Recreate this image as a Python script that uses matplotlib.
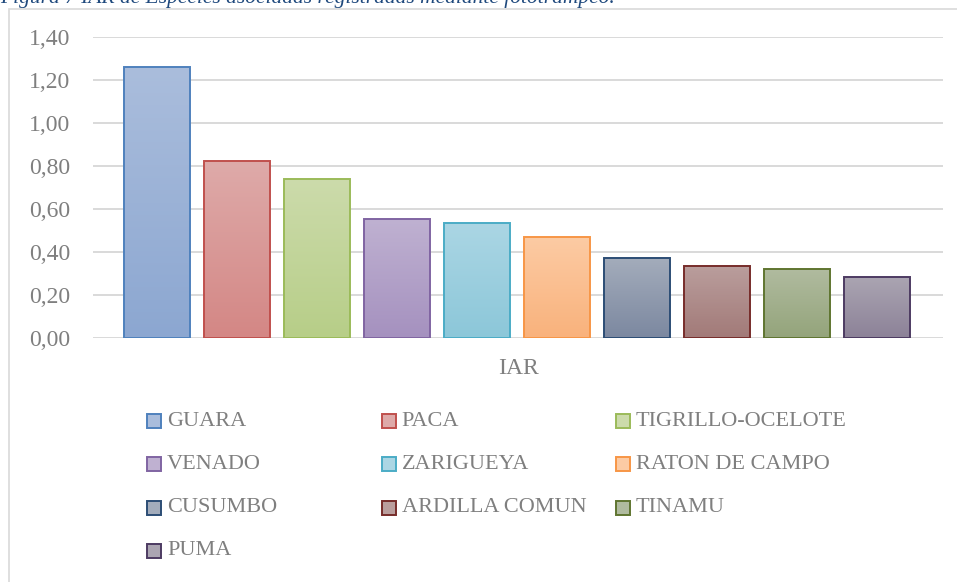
import numpy as np
import matplotlib
matplotlib.use("Agg")
import matplotlib.pyplot as plt
from matplotlib.patches import Rectangle
from matplotlib.colors import LinearSegmentedColormap

# ==============================
# DATI
# ==============================
especies = ["GUARA", "PACA", "TIGRILLO-OCELOTE", "VENADO", "ZARIGUEYA",
            "RATON DE CAMPO", "CUSUMBO", "ARDILLA COMUN", "TINAMU", "PUMA"]
iar = [1.26, 0.823, 0.74, 0.553, 0.537, 0.47, 0.372, 0.336, 0.319, 0.285]
yticks = [0.0, 0.2, 0.4, 0.6, 0.8, 1.0, 1.2, 1.4]

# colori: bordo, riempimento alto, riempimento basso
bordi = ["#4F81BD", "#C0504D", "#9BBB59", "#8064A2", "#4BACC6",
         "#F79646", "#2C4D75", "#772C2A", "#5F7530", "#4D3B62"]
alto = ["#AABDDC", "#DEAAA9", "#CCDBAB", "#BFB1D1", "#ABD6E4",
        "#FCCBA4", "#A3ACBB", "#BA9E9D", "#B0BB9F", "#ABA5B2"]
basso = ["#8CA7D1", "#D48785", "#B7CE88", "#A591BF", "#8CC7D9",
         "#F9B27C", "#7C88A0", "#A27A78", "#94A47B", "#8C8298"]

serif = ["Liberation Serif", "DejaVu Serif"]
grigio = "#7F7F7F"

W, H = 957, 582
fig = plt.figure(figsize=(W / 100, H / 100), dpi=100)

# bordo del grafico
fig.patches.append(Rectangle((9 / W, -0.1), 1.1, 1.1 - 8.5 / H,
                             transform=fig.transFigure, fill=False,
                             edgecolor="#D9D9D9", linewidth=1.2))

# titolo tagliato in alto
fig.text(0.0, 1 - 3 / H, "Figura 7 IAR de Especies asociadas registradas mediante fototrampeo.",
         family=serif, style="italic", fontsize=15.5, color="#1F497D", va="baseline", ha="left")

ax = fig.add_axes([93 / W, 1 - 338 / H, 850 / W, 301 / H])
x = np.arange(len(especies))
bars = ax.bar(x, iar, width=0.825, color="none", edgecolor=bordi,
              linewidth=1.4, zorder=3)

# riempimento sfumato
for b, c1, c2 in zip(bars, alto, basso):
    cmap = LinearSegmentedColormap.from_list("g", [c2, c1])
    x0, y0 = b.get_x(), b.get_y()
    im = ax.imshow(np.linspace(0, 1, 100).reshape(-1, 1), cmap=cmap, origin="lower",
                   extent=[x0, x0 + b.get_width(), y0, y0 + b.get_height()],
                   aspect="auto", zorder=2)
    im.set_clip_path(b)

ax.set_xlim(-0.8, 9.825)
ax.set_ylim(0, 1.4)
ax.set_yticks(yticks)
ax.set_yticklabels([f"{v:.2f}".replace(".", ",") for v in yticks])
ax.set_xticks([])
for s in ax.spines.values():
    s.set_visible(False)
ax.grid(axis="y", color="#D9D9D9", linewidth=1.4, zorder=0)
ax.set_axisbelow(True)
ax.tick_params(axis="y", length=0, pad=16.5, labelsize=17, labelcolor=grigio)
for t in ax.get_yticklabels():
    t.set_family(serif)

fig.text(518 / W, 1 - 368 / H, "IAR", family=serif, fontsize=17, color=grigio,
         ha="center", va="center")

# legenda (riempita per righe, 3 colonne)
for i, nome in enumerate(especies):
    r, c = divmod(i, 3)
    xm = 147 + c * 234.5
    ym = 421 + r * 43.3
    fig.patches.append(Rectangle((xm / W, 1 - (ym + 7) / H), 14 / W, 14 / H,
                                 transform=fig.transFigure, facecolor=alto[i],
                                 edgecolor=bordi[i], linewidth=1.4))
    fig.text((xm + 20) / W, 1 - ym / H, nome, family=serif, fontsize=16,
             color=grigio, ha="left", va="center")

fig.savefig("out.png", dpi=100)
